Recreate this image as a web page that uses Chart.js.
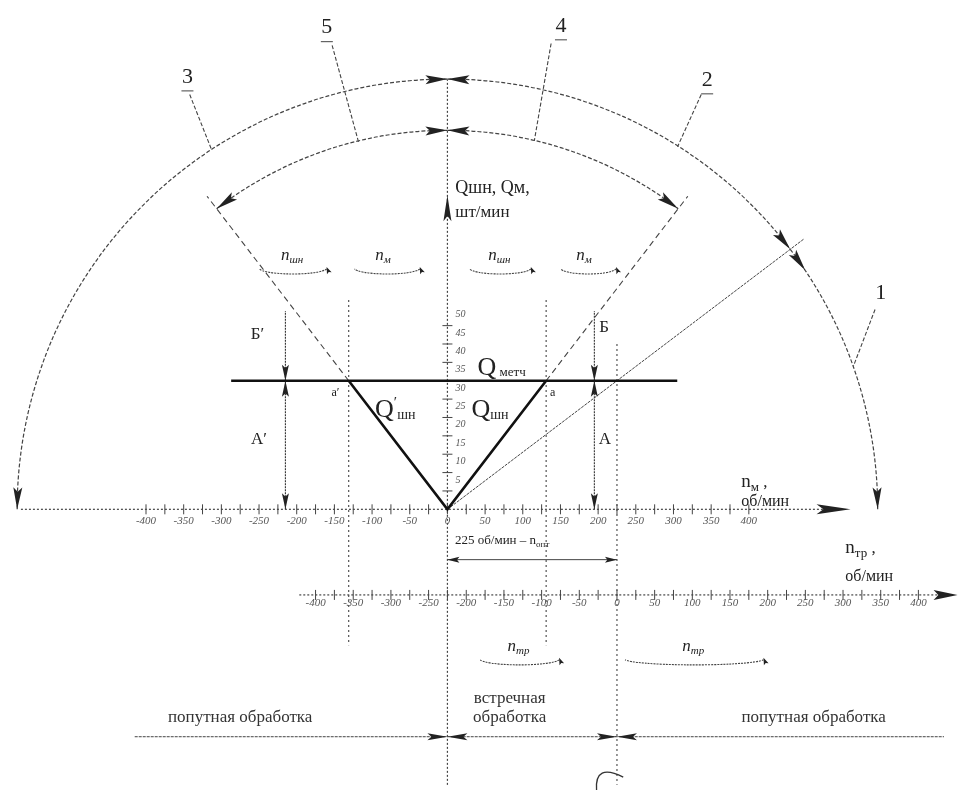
<!DOCTYPE html>
<html>
<head>
<meta charset="utf-8">
<script src="https://cdn.jsdelivr.net/npm/chart.js@4.4.0/dist/chart.umd.min.js"></script>
<style>
  html, body { margin: 0; padding: 0; background: #fff; }
  canvas { display: block; }
</style>
</head>
<body>
<canvas id="mycanvas" width="965" height="796"></canvas>
<script>
// scale labels, об/мин and шт/мин
var nMTicks = [-400, -350, -300, -250, -200, -150, -100, -50, 0, 50, 100, 150, 200, 250, 300, 350, 400];
var nTrTicks = [-400, -350, -300, -250, -200, -150, -100, -50, 0, 50, 100, 150, 200, 250, 300, 350, 400];
var qTicks = [5, 10, 15, 20, 25, 30, 35, 40, 45, 50];

// Q шн (n) lines: n_м and Q at the vertex and at the two corners a', a
var vN = [-131, 0, 131];
var vQ = [35, 0, 35];
var qMetch = 35;      // Q метч
var nOpt = 225;       // n опт = 225 об/мин
var nA = [-215, 195]; // where the A / Б arrows stand
var qB = 54;

// view window of the sheet
var xMin = -585.8, xMax = 678.9, yMin = -76.4, yMax = 137;
var rOuter = 571, rInner = 503;   // arcs 1-3 and 4-5, measured along n_м

var ink = '#222';
var grey = '#444';

function seg(pts, opts) {
  opts = opts || {};
  return {
    data: pts.map(function (p) { return { x: p[0], y: p[1] }; }),
    xAxisID: opts.axis || 'x',
    showLine: true,
    pointRadius: 0,
    borderColor: opts.color || grey,
    borderWidth: opts.width || 1.1,
    borderDash: opts.dash || [],
    fill: false
  };
}

function ticks(values, q, axis, rot, r) {
  var pts = [];
  values.forEach(function (v, i) {
    if (rot === 90 && i > 0) pts.push({ x: (values[i - 1] + v) / 2, y: q });
    pts.push(rot === 90 ? { x: v, y: q } : { x: 0, y: v });
  });
  return {
    data: pts,
    xAxisID: axis,
    showLine: false,
    pointStyle: 'line',
    rotation: rot,
    pointRadius: r,
    pointBorderColor: grey,
    pointBorderWidth: 1,
    pointBackgroundColor: grey
  };
}

var ext = 2.435;   // dashed rays run on to the inner arc
var vPts = vN.map(function (n, i) { return [n, vQ[i]]; });

var datasets = [
  // Q шн and Q'шн
  seg(vPts, { color: '#111', width: 2.6 }),
  // Q метч
  seg([[-287, qMetch], [305, qMetch]], { color: '#111', width: 2.6 }),
  // dashed rays through a' and a
  seg([[vN[0], vQ[0]], [vN[0] * ext, vQ[0] * ext]], { dash: [6, 4] }),
  seg([[vN[2], vQ[2]], [vN[2] * ext, vQ[2] * ext]], { dash: [6, 4] }),
  // ray through n опт on Q метч
  seg([[0, 0], [nOpt * 2.1, qMetch * 2.1]], { dash: [3, 1], width: 1 }),
  // n_м axis
  seg([[-566, 0], [515, 0]], { dash: [2, 2], width: 1.2 }),
  // n_тр axis
  seg([[-421.6, -23.3], [440, -23.3]], { axis: 'xTr', dash: [2, 2], width: 1.2 }),
  // Q axis
  seg([[0, -75], [0, 117]], { dash: [2, 2], width: 1.2 }),
  // verticals through a', a and n опт
  seg([[vN[0], 57], [vN[0], -37]], { dash: [2, 3] }),
  seg([[vN[2], 57], [vN[2], -37]], { dash: [2, 3] }),
  seg([[nOpt, 45], [nOpt, -75]], { dash: [2, 3] }),
  // A and Б arrows
  seg([[nA[0], 0], [nA[0], qMetch]], { color: '#333', dash: [2, 1] }),
  seg([[nA[1], 0], [nA[1], qMetch]], { color: '#333', dash: [2, 1] }),
  seg([[nA[0], qMetch], [nA[0], qB]], { color: '#333', dash: [2, 1] }),
  seg([[nA[1], qMetch], [nA[1], qB]], { color: '#333', dash: [2, 1] }),
  // leaders of 3, 5, 4, 2, 1
  seg([[-342, 112.9], [-313, 97.9]], { dash: [4, 2] }),
  seg([[-153, 126.3], [-118, 100]], { dash: [4, 2] }),
  seg([[137.6, 126.8], [115.3, 100.3]], { dash: [4, 2] }),
  seg([[336.8, 112.9], [305.4, 98.7]], { dash: [4, 2] }),
  seg([[567.5, 54.4], [538.7, 38.9]], { dash: [4, 2] }),
  // 225 об/мин and the bottom dimension line
  seg([[0, -13.7], [nOpt, -13.7]], { width: 1 }),
  seg([[-415, -61.9], [659, -61.9]], { width: 1, dash: [3, 1] }),
  // ticks
  ticks(nMTicks, 0, 'x', 90, 5),
  ticks(nTrTicks, -23.3, 'xTr', 90, 5),
  ticks(qTicks, 0, 'x', 0, 5)
];

function head(ctx, x, y, ang, len, w) {
  ctx.save();
  ctx.translate(x, y);
  ctx.rotate(ang);
  ctx.beginPath();
  ctx.moveTo(0, 0);
  ctx.lineTo(-len, -w);
  ctx.lineTo(-len * 0.8, 0);
  ctx.lineTo(-len, w);
  ctx.closePath();
  ctx.fill();
  ctx.restore();
}

var drawing = {
  id: 'drawing',
  afterDatasetsDraw: function (chart) {
    var ctx = chart.ctx;
    var xs = chart.scales.x, xt = chart.scales.xTr, ys = chart.scales.y;
    function P(n, q) { return [xs.getPixelForValue(n), ys.getPixelForValue(q)]; }
    function T(n, q) { return [xt.getPixelForValue(n), ys.getPixelForValue(q)]; }

    ctx.save();
    ctx.fillStyle = ink;
    ctx.strokeStyle = grey;

    // arcs round the origin
    var c = P(0, 0);
    var rO = xs.getPixelForValue(rOuter) - c[0];
    var rI = xs.getPixelForValue(rInner) - c[0];
    function ang(n, q) { var p = P(n, q); return Math.atan2(p[1] - c[1], p[0] - c[0]); }
    var aOpt = ang(nOpt, qMetch), aL = ang(vN[0], vQ[0]), aR = ang(vN[2], vQ[2]);
    var top = -Math.PI / 2;

    ctx.lineWidth = 1.2;
    ctx.setLineDash([4, 2]);
    [[rO, Math.PI, Math.PI * 1.5], [rO, top, aOpt], [rO, aOpt, 0], [rI, aL, top], [rI, top, aR]].forEach(function (a) {
      ctx.beginPath();
      ctx.arc(c[0], c[1], a[0], a[1], a[2]);
      ctx.stroke();
    });
    ctx.setLineDash([]);

    function arcHead(r, a, dir) {
      head(ctx, c[0] + r * Math.cos(a), c[1] + r * Math.sin(a), a + dir * Math.PI / 2 - dir * 0.03, 22, 4.5);
    }
    arcHead(rO, Math.PI, -1);
    arcHead(rO, top, 1);
    arcHead(rO, top, -1);
    arcHead(rO, aOpt, 1);
    arcHead(rO, aOpt + 0.06, 1);
    arcHead(rO, 0, 1);
    arcHead(rI, aL, -1);
    arcHead(rI, top, 1);
    arcHead(rI, top, -1);
    arcHead(rI, aR, 1);

    // axis arrows
    var p = P(535, 0);
    head(ctx, p[0], p[1], 0, 34, 5);
    p = T(452, -23.3);
    head(ctx, p[0], p[1], 0, 24, 5);
    p = P(0, 85.5);
    head(ctx, p[0], p[1], -Math.PI / 2, 26, 4);

    // A, Б arrows
    nA.forEach(function (n) {
      var a = P(n, qMetch), b = P(n, 0);
      head(ctx, a[0], a[1], -Math.PI / 2, 16, 3.5);
      head(ctx, b[0], b[1], Math.PI / 2, 16, 3.5);
      head(ctx, a[0], a[1], Math.PI / 2, 16, 3.5);
    });

    // 225 об/мин arrows
    var d0 = P(0, -13.7), d1 = P(nOpt, -13.7);
    head(ctx, d0[0], d0[1], Math.PI, 12, 3);
    head(ctx, d1[0], d1[1], 0, 12, 3);
    // bottom line arrows
    [0, nOpt].forEach(function (n) {
      var b = P(n, -61.9);
      head(ctx, b[0], b[1], 0, 20, 3.5);
      head(ctx, b[0], b[1], Math.PI, 20, 3.5);
    });

    function text(s, pt, font, align, color) {
      ctx.font = font;
      ctx.textAlign = align || 'left';
      ctx.textBaseline = 'middle';
      ctx.fillStyle = color || ink;
      ctx.fillText(s, pt[0], pt[1]);
    }
    // pieces written one after another, each with its own font and lift
    function run(pt, parts) {
      var x = pt[0];
      ctx.textAlign = 'left';
      ctx.textBaseline = 'alphabetic';
      ctx.fillStyle = ink;
      parts.forEach(function (q) {
        ctx.font = q[1];
        ctx.fillText(q[0], x, pt[1] + (q[2] || 0));
        x += ctx.measureText(q[0]).width;
      });
    }

    var serif = '"Liberation Serif", "DejaVu Serif", serif';
    var tickFont = 'italic 11px ' + serif;

    nMTicks.forEach(function (v) { text(String(v), P(v, -3.2), tickFont, 'center', '#555'); });
    nTrTicks.forEach(function (v) { text(String(v), T(v, -25.6), tickFont, 'center', '#555'); });
    qTicks.forEach(function (v) {
      var t = P(0, v + 3);
      text(String(v), [t[0] + 8, t[1]], 'italic 10px ' + serif, 'left', '#555');
    });

    // arc numbers
    [['3', -345, 117.7], ['5', -160, 131.1], ['4', 150.7, 131.6], ['2', 344.7, 116.9], ['1', 575, 58.7]].forEach(function (l) {
      var t = P(l[1], l[2]);
      text(l[0], t, '22px ' + serif, 'center');
      if (l[0] !== '1') {
        ctx.lineWidth = 1;
        ctx.beginPath();
        ctx.moveTo(t[0] - 6, t[1] + 14);
        ctx.lineTo(t[0] + 6, t[1] + 14);
        ctx.stroke();
      }
    });

    run(P(10.5, 86), [['Qшн, Qм,', '18px ' + serif]]);
    run(P(10.5, 79.5), [['шт/мин', '17px ' + serif]]);

    run(P(390, 6), [['n', '19px ' + serif], ['м', '13px ' + serif, 4], [' ,', '17px ' + serif]]);
    run(P(390, 1), [['об/мин', '16px ' + serif]]);
    run(P(528, -12), [['n', '19px ' + serif], ['тр', '13px ' + serif, 4], [' ,', '17px ' + serif]]);
    run(P(528, -19.6), [['об/мин', '16px ' + serif]]);

    run(P(10, -9.5), [['225 об/мин – n', '13px ' + serif], ['опт', '9px ' + serif, 3]]);

    run(P(40, 36.5), [['Q', '26px ' + serif], [' метч', '13px ' + serif, 1]]);
    run(P(32, 25.2), [['Q', '26px ' + serif], ['шн', '14px ' + serif, 2]]);
    run(P(-96, 25.2), [['Q', '26px ' + serif], ['\u2032', '15px ' + serif, -10], ['шн', '14px ' + serif, 2]]);
    text('a', P(136, 31.8), '12px ' + serif, 'left');
    text('a\u2032', P(-154, 31.8), '12px ' + serif, 'left');

    text('Б\u2032', P(-252, 47.5), '17px ' + serif, 'center');
    text('Б', P(208, 49.6), '17px ' + serif, 'center');
    text('A\u2032', P(-250, 19), '17px ' + serif, 'center');
    text('A', P(209, 19), '17px ' + serif, 'center');

    // rotation marks
    function spin(n, q, w, label, sub) {
      var t = P(n, q);
      ctx.lineWidth = 1.1;
      ctx.setLineDash([2, 1]);
      ctx.beginPath();
      ctx.ellipse(t[0], t[1] - 4, w / 2, 6, 0, 0.15, Math.PI - 0.15);
      ctx.stroke();
      ctx.setLineDash([]);
      head(ctx, t[0] + w / 2 * Math.cos(0.15), t[1] - 4 + 6 * Math.sin(0.15) - 2, -Math.PI / 2 - 0.4, 7, 2.5);
      run([t[0] - 12, t[1] - 12], [[label, 'italic 17px ' + serif], [sub, 'italic 11px ' + serif, 3]]);
    }
    spin(-205, 64.6, 68, 'n', 'шн');
    spin(-80, 64.6, 66, 'n', 'м');
    spin(70, 64.6, 62, 'n', 'шн');
    spin(187, 64.6, 56, 'n', 'м');
    spin(95.7, -41.8, 80, 'n', 'тр');
    spin(327.6, -41.8, 140, 'n', 'тр');

    text('попутная обработка', P(-275, -56.6), '17px ' + serif, 'center', '#333');
    text('встречная', P(82.6, -51.5), '17px ' + serif, 'center', '#333');
    text('обработка', P(82.6, -56.6), '17px ' + serif, 'center', '#333');
    text('попутная обработка', P(486, -56.6), '17px ' + serif, 'center', '#333');

    // pencil hook under the sheet
    var s0 = P(197.9, -76.4), s1 = P(195.3, -69), s2 = P(233.3, -72.9);
    ctx.lineWidth = 1.3;
    ctx.strokeStyle = '#333';
    ctx.beginPath();
    ctx.moveTo(s0[0], s0[1]);
    ctx.quadraticCurveTo(s1[0], s1[1], s2[0], s2[1]);
    ctx.stroke();

    ctx.restore();
  }
};

var ctx = document.getElementById('mycanvas').getContext('2d');
var sheet = new Chart(ctx, {
  type: 'scatter',
  data: { datasets: datasets },
  options: {
    responsive: false,
    devicePixelRatio: 1,
    animation: false,
    events: [],
    layout: { padding: 0 },
    plugins: { legend: { display: false }, tooltip: { enabled: false } },
    scales: {
      x: { type: 'linear', display: false, min: xMin, max: xMax },
      xTr: { type: 'linear', display: false, min: xMin - nOpt, max: xMax - nOpt },
      y: { type: 'linear', display: false, min: yMin, max: yMax }
    }
  },
  plugins: [drawing]
});
</script>
</body>
</html>
